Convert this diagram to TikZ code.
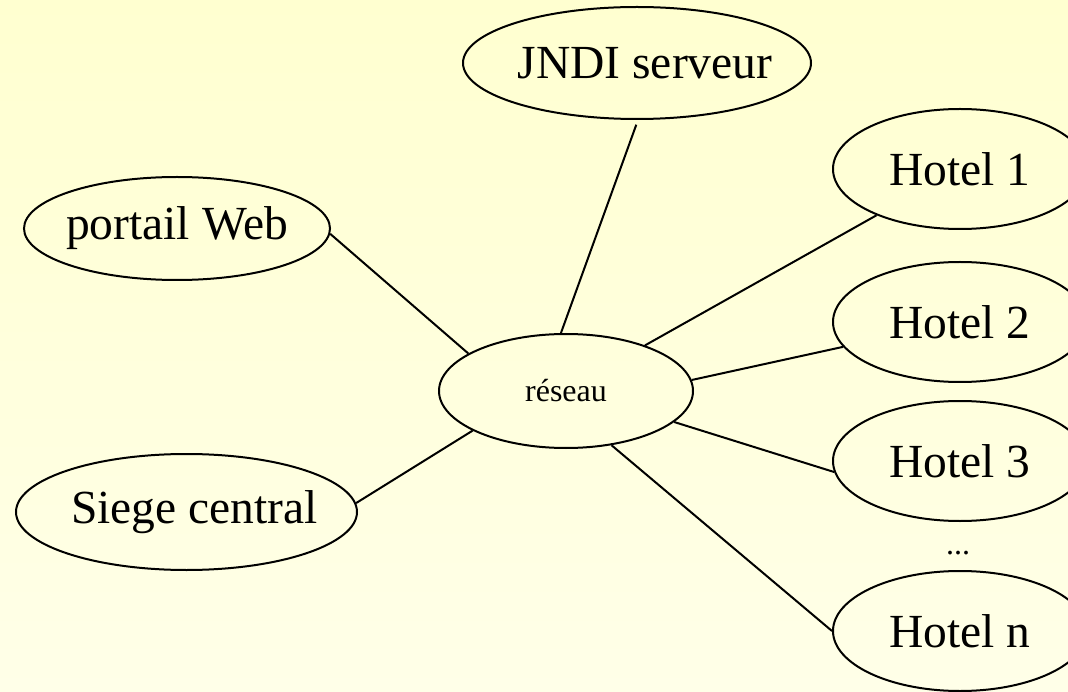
\documentclass[tikz,border=0pt]{standalone}
\usepackage{fontspec}
\setmainfont{Liberation Serif}
\usetikzlibrary{shapes.geometric}
\definecolor{bgtop}{RGB}{255,255,208}
\definecolor{bgbot}{RGB}{255,255,232}
\begin{document}
\begin{tikzpicture}[x=1pt,y=-1pt,
  bubble/.style={draw=black, line width=2pt, ellipse, inner sep=0pt, minimum width=254pt, minimum height=120pt},
  big/.style={font=\fontsize{47.5}{50}\selectfont},
  small/.style={font=\fontsize{32}{34}\selectfont},
  link/.style={draw=black, line width=2pt}]
\useasboundingbox (0,0) rectangle (1068,692);
\shade[top color=bgtop, bottom color=bgbot] (0,0) rectangle (1068,692);

\node[bubble, minimum width=348pt, minimum height=112pt, label={[big,xshift=8pt]center:JNDI serveur}] (jndi) at (637,63) {};
\node[bubble, minimum width=306pt, minimum height=103pt, label={[big]center:portail Web}] (port) at (177,228.5) {};
\node[bubble, minimum width=341pt, minimum height=116pt, label={[big,xshift=8pt]center:Siege central}] (siege) at (186.5,512) {};
\node[bubble, minimum width=254pt, minimum height=114pt, label={[small]center:réseau}] (res) at (566,391) {};
\node[bubble, label={[big]center:Hotel 1}] (h1) at (960,169) {};
\node[bubble, label={[big]center:Hotel 2}] (h2) at (960,322) {};
\node[bubble, label={[big]center:Hotel 3}] (h3) at (960,461) {};
\node[bubble, label={[big]center:Hotel n}] (hn) at (960,631) {};
\node[small, inner sep=0pt] (dots) at (958,553) {...};

\draw[link, shorten <=5pt] (jndi.271) -- (res.95);
\draw[link] (port.-2.5) -- (res.159.4);
\draw[link] (siege.3) -- (res.203.8);
\draw[link] (h1.209.5) -- (res.30);
\draw[link] (h2.192.7) -- (res.5);
\draw[link] (h3.185) -- (res.-16);
\draw[link] (hn.180) -- (res.-50.6);
\end{tikzpicture}
\end{document}
